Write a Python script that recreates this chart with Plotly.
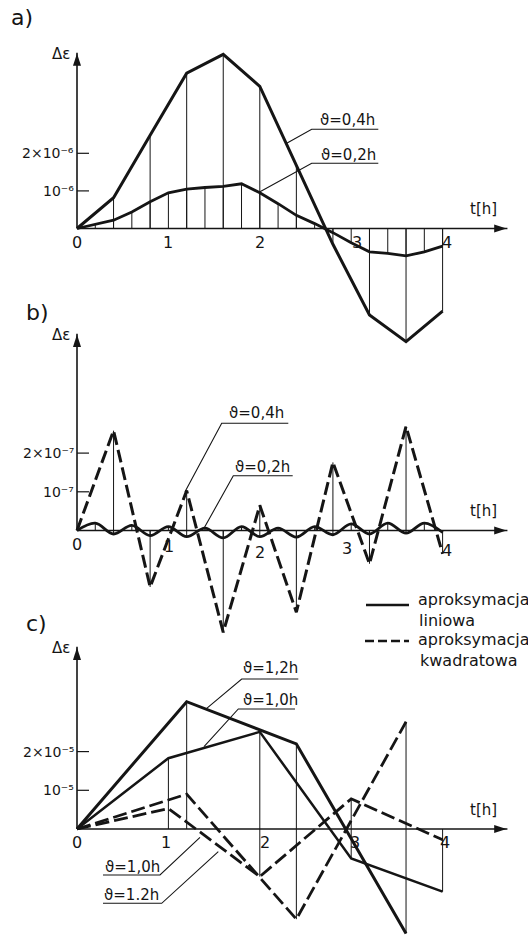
import plotly.graph_objects as go

# ---------------- data ----------------
# panel a) (units 1e-6)
t_a04 = [0, 0.4, 0.8, 1.2, 1.6, 2.0, 2.4, 2.8, 3.2, 3.6, 4.0]
a_04 = [0, 0.82, 2.48, 4.13, 4.63, 3.78, 1.68, -0.42, -2.30, -3.01, -2.20]
t_a02 = [0, 0.2, 0.4, 0.6, 0.8, 1.0, 1.2, 1.4, 1.6, 1.8, 2.0,
         2.2, 2.4, 2.6, 2.8, 3.0, 3.2, 3.4, 3.6, 3.8, 4.0]
a_02 = [0, 0.12, 0.22, 0.44, 0.71, 0.95, 1.05, 1.09, 1.12, 1.19, 0.95,
        0.66, 0.35, 0.13, -0.11, -0.38, -0.62, -0.66, -0.73, -0.62, -0.47]

# panel b) (units 1e-7)
t_b04 = [0, 0.4, 0.8, 1.2, 1.6, 2.0, 2.4, 2.8, 3.2, 3.6, 4.0]
b_04 = [0, 2.58, -1.46, 1.03, -2.63, 0.65, -2.11, 1.76, -0.86, 2.69, -0.60]
t_b02 = [0, 0.2, 0.4, 0.6, 0.8, 1.0, 1.2, 1.4, 1.6, 1.8, 2.0,
         2.2, 2.4, 2.6, 2.8, 3.0, 3.2, 3.4, 3.6, 3.8, 4.0]
b_02 = [0, 0.19, -0.09, 0.13, -0.13, 0.10, -0.16, 0.06, -0.19, 0.10, -0.16,
        0.06, -0.17, 0.10, -0.11, 0.17, -0.09, 0.19, -0.07, 0.19, -0.05]

# panel c) (units 1e-5)
t_c10 = [0, 1, 2, 3, 4]
c10_lin = [0, 1.83, 2.51, -0.76, -1.62]
c10_quad = [0, 0.53, -1.23, 0.78, -0.28]
t_c12 = [0, 1.2, 2.4, 3.6]
c12_lin = [0, 3.29, 2.20, -2.70]
c12_quad = [0, 0.90, -2.33, 2.77]

x_ticks = [0, 1, 2, 3, 4]
x_tick_labels = ["0", "1", "2", "3", "4"]
y_ticks = [1, 2]
y_tick_labels_a = ["10⁻⁶", "2×10⁻⁶"]
y_tick_labels_b = ["10⁻⁷", "2×10⁻⁷"]
y_tick_labels_c = ["10⁻⁵", "2×10⁻⁵"]

# ---------------- layout helpers ----------------
W, H = 528, 936
X0, U = 77, 91.4          # pixel of t=0 and pixels per hour
FONT = "DejaVu Sans"
INK = "#151515"

panels = {
    "a": dict(A=228.5, S=37.6, top=47, xa="x", ya="y"),
    "b": dict(A=530.5, S=38.7, top=328, xa="x2", ya="y2"),
    "c": dict(A=829.0, S=38.7, top=641, xa="x3", ya="y3"),
}


def P(xp, yp):
    return xp / W, 1 - yp / H


fig = go.Figure()
annotations = []
shapes = []


def add_line(p, xs, ys, width=2.8, dash="solid", shape="linear"):
    fig.add_trace(go.Scatter(x=xs, y=ys, mode="lines", xaxis=p["xa"], yaxis=p["ya"],
                             line=dict(color=INK, width=width, dash=dash, shape=shape),
                             hoverinfo="skip", showlegend=False))


def add_stems(p, ts, lists):
    xs, ys = [], []
    for i, t in enumerate(ts):
        vals = [l[i] for l in lists]
        lo, hi = min(0, min(vals)), max(0, max(vals))
        if hi - lo > 0:
            xs += [t, t, None]
            ys += [lo, hi, None]
    add_line(p, xs, ys, width=1.0)


def axes_frame(p, ylabels, xshifts, yshifts):
    xr = p["xa"]; yr = p["ya"]
    x_end = (512 - X0) / U
    y_end = (p["A"] - p["top"]) / p["S"]
    # axis lines
    add_line(p, [0, x_end - 0.05], [0, 0], width=1.6)
    add_line(p, [0, 0], [0, y_end - 0.15], width=1.6)
    # arrow heads
    fig.add_trace(go.Scatter(x=[x_end - 0.06], y=[0], mode="markers", xaxis=xr, yaxis=yr,
                             marker=dict(symbol="arrow", angle=90, size=13, color=INK,
                                         line=dict(width=0)),
                             hoverinfo="skip", showlegend=False))
    fig.add_trace(go.Scatter(x=[0], y=[y_end - 0.17], mode="markers", xaxis=xr, yaxis=yr,
                             marker=dict(symbol="arrow", angle=0, size=13, color=INK,
                                         line=dict(width=0)),
                             hoverinfo="skip", showlegend=False))
    # y ticks
    xs, ys = [], []
    for v in y_ticks:
        xs += [0, 12 / U, None]
        ys += [v, v, None]
    add_line(p, xs, ys, width=1.2)
    for v, lab in zip(y_ticks, ylabels):
        annotations.append(dict(x=76 / W, y=v, xref="paper", yref=yr, text=lab,
                                showarrow=False, xanchor="right", yanchor="middle",
                                font=dict(family=FONT, size=14, color=INK)))
    for v, lab, xs_, ys_ in zip(x_ticks, x_tick_labels, xshifts, yshifts):
        annotations.append(dict(x=v, y=0, xref=xr, yref=yr, text=lab, showarrow=False,
                                xanchor="center", yanchor="top", xshift=xs_, yshift=ys_,
                                font=dict(family=FONT, size=16, color=INK)))
    # axis titles
    annotations.append(dict(x=61 / W, y=1 - (p["top"] + 7) / H, xref="paper", yref="paper",
                            text="Δε", showarrow=False, xanchor="center", yanchor="middle",
                            font=dict(family=FONT, size=15, color=INK)))
    annotations.append(dict(x=483 / W, y=1 - (p["A"] - 19) / H, xref="paper", yref="paper",
                            text="t[h]", showarrow=False, xanchor="center", yanchor="middle",
                            font=dict(family=FONT, size=15, color=INK)))


def text_px(xp, yp, txt, size=15, anchor="center"):
    x, y = P(xp, yp)
    annotations.append(dict(x=x, y=y, xref="paper", yref="paper", text=txt, showarrow=False,
                            xanchor=anchor, yanchor="middle",
                            font=dict(family=FONT, size=size, color=INK)))


def leader(points):
    path = ""
    for i, (xp, yp) in enumerate(points):
        x, y = P(xp, yp)
        path += ("M" if i == 0 else "L") + f"{x:.5f},{y:.5f} "
    shapes.append(dict(type="path", path=path, xref="paper", yref="paper",
                       line=dict(color=INK, width=1.1)))


# ---------------- panel a ----------------
pa = panels["a"]
add_stems(pa, t_a02, [a_02])
add_stems(pa, t_a04, [a_04])
add_line(pa, t_a04, a_04, width=3.0)
add_line(pa, t_a02, a_02, width=2.8)
axes_frame(pa, y_tick_labels_a, [0, 0, 0, 6, 4], [-2, -2, -2, -2, -2])
text_px(22, 17, "a)", size=22)
text_px(347, 120, "ϑ=0,4h")
leader([(286.7, 143.3), (311.7, 129.3), (378.3, 129.3)])
text_px(348, 155, "ϑ=0,2h")
leader([(260, 191.7), (311.7, 163.3), (378.3, 163.3)])

# ---------------- panel b ----------------
pb = panels["b"]
add_stems(pb, t_b02, [b_02])
add_stems(pb, t_b04, [b_04])
add_line(pb, t_b02, b_02, width=2.8, shape="spline")
add_line(pb, t_b04, b_04, width=3.0, dash="13px,5px")
axes_frame(pb, y_tick_labels_b, [0, 1, 0, -4, 4], [-2, -4, -10, -6, -8])
text_px(37, 313, "b)", size=22)
text_px(256, 413, "ϑ=0,4h")
leader([(185, 491.7), (221.7, 423.3), (288.3, 423.3)])
text_px(262, 466.7, "ϑ=0,2h")
leader([(204, 528.3), (233.3, 475.7), (292.7, 475.7)])

# legend
for (x1, x2, yl, dash) in [(366, 409, 605, None), (365, 409, 641, "dash")]:
    x_1, y_1 = P(x1, yl)
    x_2, _ = P(x2, yl)
    ln = dict(color=INK, width=2.6)
    if dash:
        ln["dash"] = "9px,4px"
    shapes.append(dict(type="line", x0=x_1, x1=x_2, y0=y_1, y1=y_1, xref="paper",
                       yref="paper", line=ln))
text_px(416, 599, "aproksymacja", size=16, anchor="left")
text_px(417, 620, "liniowa", size=16, anchor="left")
text_px(416, 639, "aproksymacja", size=16, anchor="left")
text_px(418, 660, "kwadratowa", size=16, anchor="left")

# ---------------- panel c ----------------
pc = panels["c"]
t_c_all = sorted(set(t_c10) | set(t_c12))


def vals_at(ts, vs, t):
    return vs[ts.index(t)] if t in ts else 0


stem_lists = [[vals_at(t_c10, c10_lin, t) for t in t_c_all],
              [vals_at(t_c10, c10_quad, t) for t in t_c_all],
              [vals_at(t_c12, c12_lin, t) for t in t_c_all],
              [vals_at(t_c12, c12_quad, t) for t in t_c_all]]
add_stems(pc, t_c_all, stem_lists)
add_line(pc, t_c12, c12_lin, width=3.0)
add_line(pc, t_c10, c10_lin, width=2.5)
add_line(pc, t_c10, c10_quad, width=2.8, dash="14px,5px")
add_line(pc, t_c12, c12_quad, width=2.8, dash="14px,5px")
axes_frame(pc, y_tick_labels_c, [0, -2, 5, 4, 2], [-2, -2, -2, -2, -2])
text_px(36, 623, "c)", size=22)
text_px(270, 668, "ϑ=1,2h")
leader([(206.7, 708.3), (241.7, 679), (298.3, 679)])
text_px(270, 700, "ϑ=1,0h")
leader([(204, 746.7), (238.3, 709), (295, 709)])
text_px(132, 866.7, "ϑ=1,0h")
leader([(200, 837.3), (160, 875), (103, 875)])
text_px(131, 895, "ϑ=1.2h")
leader([(218.3, 851.7), (161.7, 903.3), (103, 903.3)])

# ---------------- axes ----------------
xr = [-X0 / U, (W - X0) / U]
hidden = dict(visible=False, showgrid=False, zeroline=False, fixedrange=True)
layout_axes = {}
for i, key in enumerate(["a", "b", "c"]):
    p = panels[key]
    sfx = "" if i == 0 else str(i + 1)
    layout_axes["xaxis" + sfx] = dict(domain=[0, 1], range=xr, anchor="y" + sfx, **hidden)
    layout_axes["yaxis" + sfx] = dict(domain=[0, 1], range=[(p["A"] - H) / p["S"], p["A"] / p["S"]],
                                      anchor="x" + sfx, **hidden)

fig.update_layout(width=W, height=H, margin=dict(l=0, r=0, t=0, b=0),
                  paper_bgcolor="white", plot_bgcolor="rgba(0,0,0,0)",
                  annotations=annotations, shapes=shapes, showlegend=False,
                  **layout_axes)

fig.write_html("out.html")
